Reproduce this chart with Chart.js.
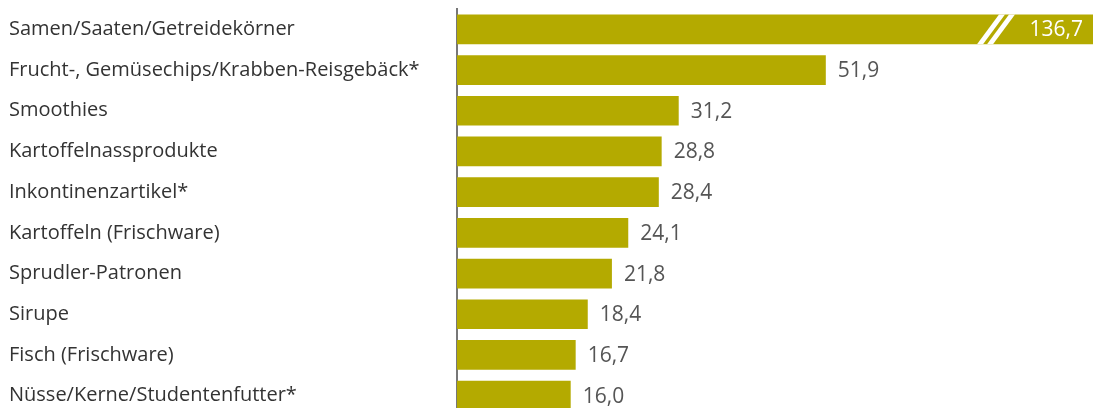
<!DOCTYPE html>
<html lang="de">
<head>
<meta charset="UTF-8">
<title>Samen/Saaten</title>
<script src="https://cdn.jsdelivr.net/npm/chart.js"></script>
<style>
  body { margin: 0; background: #fff; overflow: hidden; }
  .wrap { position: relative; width: 1093px; height: 420px; }
</style>
</head>
<body>
<div class="wrap"><canvas id="chart"></canvas></div>
<script>
const categories = [
  'Samen/Saaten/Getreidekörner',
  'Frucht-, Gemüsechips/Krabben-Reisgebäck*',
  'Smoothies',
  'Kartoffelnassprodukte',
  'Inkontinenzartikel*',
  'Kartoffeln (Frischware)',
  'Sprudler-Patronen',
  'Sirupe',
  'Fisch (Frischware)',
  'Nüsse/Kerne/Studentenfutter*'
];
const values = [136.7, 51.9, 31.2, 28.8, 28.4, 24.1, 21.8, 18.4, 16.7, 16.0];
// top bar is broken: the axis stops here and the bar gets cut
const axisMax = 89.5;

const barColor = '#b4aa00';
const fontFamily = '"Open Sans", sans-serif';

const fmt = v => v.toFixed(1).replace('.', ',');

const valueLabels = {
  id: 'valueLabels',
  afterDatasetsDraw(chart) {
    const ctx = chart.ctx;
    const meta = chart.getDatasetMeta(0);
    ctx.save();
    ctx.font = '21px ' + fontFamily;
    ctx.textBaseline = 'middle';
    meta.data.forEach((bar, i) => {
      const v = values[i];
      if (v > axisMax) {
        // break marks
        const top = bar.y - bar.height / 2;
        const bot = bar.y + bar.height / 2;
        const right = chart.chartArea.right;
        ctx.fillStyle = '#fff';
        [right - 116, right - 106].forEach(x0 => {
          ctx.beginPath();
          ctx.moveTo(x0, bot);
          ctx.lineTo(x0 + 6, bot);
          ctx.lineTo(x0 + 28, top);
          ctx.lineTo(x0 + 22, top);
          ctx.closePath();
          ctx.fill();
        });
        ctx.textAlign = 'right';
        ctx.fillText(fmt(v), right - 10, bar.y + 1);
      } else {
        ctx.fillStyle = '#555';
        ctx.textAlign = 'left';
        ctx.fillText(fmt(v), bar.x + 12, bar.y + 1);
      }
    });
    ctx.restore();
  }
};

new Chart(document.getElementById('chart'), {
  type: 'bar',
  data: {
    labels: categories,
    datasets: [{
      data: values,
      backgroundColor: barColor,
      borderWidth: 0,
      barPercentage: 0.73,
      categoryPercentage: 1
    }]
  },
  options: {
    indexAxis: 'y',
    responsive: true,
    maintainAspectRatio: false,
    animation: false,
    layout: { padding: { left: 9, top: 9, right: 0, bottom: 1 } },
    plugins: { legend: { display: false }, tooltip: { enabled: false } },
    scales: {
      x: { display: false, min: 0, max: axisMax },
      y: {
        grid: { display: false },
        border: { display: true, color: '#777', width: 2 },
        ticks: {
          crossAlign: 'far',
          color: '#333',
          font: { family: fontFamily, size: 20, lineHeight: 0.1 }
        },
        afterFit(scale) { scale.width = 448; }
      }
    }
  },
  plugins: [valueLabels]
});
</script>
</body>
</html>
